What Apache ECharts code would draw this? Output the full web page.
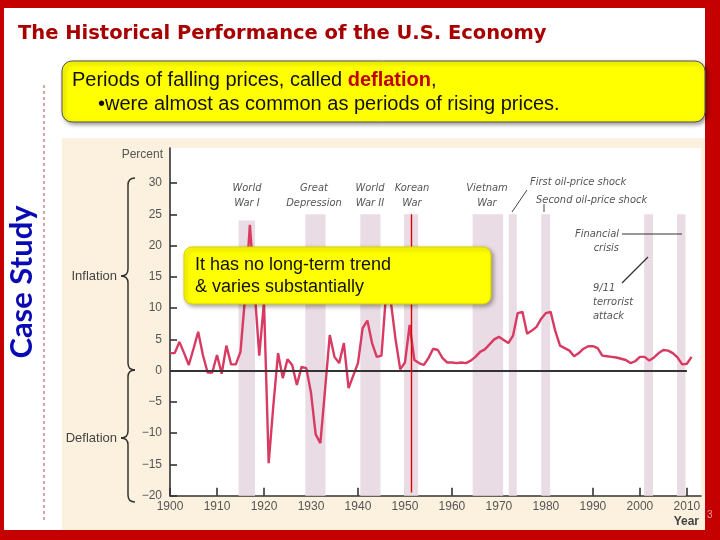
<!DOCTYPE html>
<html><head><meta charset="utf-8">
<script src="https://cdn.jsdelivr.net/npm/echarts@6.0.0/dist/echarts.min.js"></script>
<style>html,body{margin:0;padding:0;background:#fff}#c{width:720px;height:540px}</style>
</head><body><div id="c"></div>
<script>
// ---- data ----
const years = [1900,1901,1902,1903,1904,1905,1906,1907,1908,1909,
  1910,1911,1912,1913,1914,1915,1916,1917,1918,1919,
  1920,1921,1922,1923,1924,1925,1926,1927,1928,1929,
  1930,1931,1932,1933,1934,1935,1936,1937,1938,1939,
  1940,1941,1942,1943,1944,1945,1946,1947,1948,1949,
  1950,1951,1952,1953,1954,1955,1956,1957,1958,1959,
  1960,1961,1962,1963,1964,1965,1966,1967,1968,1969,
  1970,1971,1972,1973,1974,1975,1976,1977,1978,1979,
  1980,1981,1982,1983,1984,1985,1986,1987,1988,1989,
  1990,1991,1992,1993,1994,1995,1996,1997,1998,1999,
  2000,2001,2002,2003,2004,2005,2006,2007,2008,2009,
  2010,2011];
const inflation = [2.8,2.8,4.6,2.8,0.9,3.5,6.2,2.5,-0.3,-0.3,
  2.5,-0.5,4.0,1.0,1.0,3.0,12.0,23.3,13.0,2.4,
  11.0,-14.8,-5.5,2.8,-1.2,1.8,0.9,-2.3,0.6,0.4,
  -3.5,-10.2,-11.6,-3.0,5.7,2.2,1.2,4.4,-2.8,-0.8,
  1.2,6.8,8.0,4.4,2.2,2.4,12.5,11.0,5.0,0.2,
  1.3,7.3,1.7,1.2,0.9,2.0,3.5,3.3,2.0,1.3,
  1.3,1.2,1.3,1.2,1.6,2.2,3.0,3.4,4.2,5.0,
  5.4,4.9,4.4,5.6,9.2,9.4,5.9,6.4,7.0,8.3,
  9.2,9.4,6.3,4.0,3.6,3.2,2.3,2.8,3.5,3.9,
  3.9,3.6,2.4,2.3,2.2,2.1,1.9,1.7,1.2,1.5,
  2.2,2.2,1.6,2.1,2.8,3.3,3.2,2.8,2.1,1.0,
  1.1,2.2];
const xTicks = [1900,1910,1920,1930,1940,1950,1960,1970,1980,1990,2000,2010];
const yTicks = [-20,-15,-10,-5,0,5,10,15,20,25,30];
const bandStart = [1914.6,1928.8,1940.5,1949.8,1964.4,1972.1,1979.0,2000.9,2007.9];
const bandEnd   = [1918.1,1933.1,1944.8,1952.8,1970.9,1973.8,1980.9,2002.8,2009.7];
const bandTop   = [24,25,25,25,25,25,25,25,25];
const zeroLineYears = [1900,2010];
const markerYear = 1951.3;
const markerRange = [25,-19.5];

const titleText = 'The Historical Performance of the U.S. Economy';
const box1Line1 = 'Periods of falling prices, called {r|deflation},';
const box1Line2 = '\u2022were almost as common as periods of rising prices.';
const box2Text = 'It has no long-term trend\n& varies substantially';
const eventLabels = ['World\nWar I','Great\nDepression','World\nWar II','Korean\nWar','Vietnam\nWar'];

// ---- chart ----
const chart = echarts.init(document.getElementById('c'), null, {renderer:'canvas', width:720, height:540});
const annoFont = 'italic 11px "Liberation Sans Narrow", "DejaVu Sans Condensed", sans-serif';
const eventX = [247,314,370,412,487];
const graphic = [
  {type:'rect', z:-30, shape:{x:0,y:0,width:720,height:540}, style:{fill:'#c40000'}},
  {type:'rect', z:-29, shape:{x:4,y:8,width:701,height:522}, style:{fill:'#ffffff'}},
  {type:'rect', z:-28, shape:{x:62,y:138,width:643,height:392}, style:{fill:'#fbf1de'}},
  {type:'line', z:-27, shape:{x1:44,y1:85,x2:44,y2:522}, style:{stroke:'#b04848',lineWidth:1,lineDash:[3,3]}},
  {type:'text', z:10, x:18, y:34, style:{text:titleText, fill:'#a80000', font:'bold 19.5px "DejaVu Sans", "Liberation Sans", sans-serif', verticalAlign:'middle'}},
  {type:'text', z:10, x:22, y:282, rotation:Math.PI/2, style:{text:'Case Study', fill:'#0a0ab4', font:'bold 31px Lato, "Open Sans", sans-serif', align:'center', verticalAlign:'middle'}},
  // top yellow box
  {type:'rect', z:100, shape:{x:62,y:61,width:643,height:61,r:10}, style:{fill:'#ffff00', stroke:'#555', lineWidth:1, shadowBlur:4, shadowOffsetX:2, shadowOffsetY:2, shadowColor:'rgba(0,0,0,0.4)'}},
  {type:'text', z:101, x:72, y:80, style:{text:box1Line1, fill:'#111', font:'20px "Liberation Sans", Arial, sans-serif', verticalAlign:'middle', rich:{r:{fill:'#c00000', fontWeight:'bold', fontSize:20, fontFamily:'"Liberation Sans", Arial, sans-serif'}}}},
  {type:'text', z:101, x:98, y:104, style:{text:box1Line2, fill:'#111', font:'20px "Liberation Sans", Arial, sans-serif', verticalAlign:'middle'}},
  // side labels
  {type:'text', z:10, x:117, y:276, style:{text:'Inflation', fill:'#444', font:'13px "Liberation Sans Narrow", "Liberation Sans", sans-serif', align:'right', verticalAlign:'middle'}},
  {type:'text', z:10, x:117, y:438, style:{text:'Deflation', fill:'#444', font:'13px "Liberation Sans Narrow", "Liberation Sans", sans-serif', align:'right', verticalAlign:'middle'}},
  {type:'text', z:10, x:163, y:155, style:{text:'Percent', fill:'#555', font:'12px "Liberation Sans", sans-serif', align:'right', verticalAlign:'middle'}},
  {type:'text', z:10, x:699, y:522, style:{text:'Year', fill:'#444', font:'bold 12px "Liberation Sans", sans-serif', align:'right', verticalAlign:'middle'}},
  {type:'text', z:10, x:707, y:515, style:{text:'3', fill:'#d8a0a0', font:'10px "Liberation Sans", sans-serif', verticalAlign:'middle'}},
  // annotations
  {type:'text', z:10, x:530, y:182, style:{text:'First oil-price shock', fill:'#555', font:annoFont, verticalAlign:'middle'}},
  {type:'text', z:10, x:536, y:200, style:{text:'Second oil-price shock', fill:'#555', font:annoFont, verticalAlign:'middle'}},
  {type:'text', z:10, x:619, y:241, style:{text:'Financial\ncrisis', fill:'#555', font:annoFont, align:'right', verticalAlign:'middle', lineHeight:14}},
  {type:'text', z:10, x:593, y:302, style:{text:'9/11\nterrorist\nattack', fill:'#555', font:annoFont, align:'left', verticalAlign:'middle', lineHeight:14}},
  {type:'line', z:10, shape:{x1:512,y1:212,x2:527,y2:190}, style:{stroke:'#444',lineWidth:1}},
  {type:'line', z:10, shape:{x1:544,y1:204,x2:544,y2:212}, style:{stroke:'#444',lineWidth:1}},
  {type:'line', z:10, shape:{x1:622,y1:234,x2:682,y2:234}, style:{stroke:'#333',lineWidth:1.2}},
  {type:'line', z:10, shape:{x1:622,y1:283,x2:648,y2:257}, style:{stroke:'#333',lineWidth:1.2}},
  // second yellow box
  {type:'rect', z:100, shape:{x:184,y:247,width:307,height:57,r:8}, style:{fill:'#ffff00', stroke:'#e0d000', lineWidth:1, shadowBlur:4, shadowOffsetX:2, shadowOffsetY:2, shadowColor:'rgba(0,0,0,0.35)'}},
  {type:'text', z:101, x:195, y:276, style:{text:box2Text, fill:'#111', font:'18px "Liberation Sans", Arial, sans-serif', verticalAlign:'middle', lineHeight:22}}
];
eventLabels.forEach((t,i)=>{
  graphic.push({type:'text', z:10, x:eventX[i], y:196, style:{text:t, fill:'#555', font:annoFont, align:'center', verticalAlign:'middle', lineHeight:15}});
});
// curly braces built from curves and lines
function brace(x0, yTop, yMid, yBot){
  const st = {stroke:'#333', fill:null, lineWidth:1.5};
  const r = 7;
  graphic.push(
    {type:'bezierCurve', z:10, shape:{x1:x0+r, y1:yTop, cpx1:x0, cpy1:yTop, x2:x0, y2:yTop+r}, style:st},
    {type:'line', z:10, shape:{x1:x0, y1:yTop+r, x2:x0, y2:yMid-r}, style:st},
    {type:'bezierCurve', z:10, shape:{x1:x0, y1:yMid-r, cpx1:x0, cpy1:yMid, x2:x0-r, y2:yMid}, style:st},
    {type:'bezierCurve', z:10, shape:{x1:x0-r, y1:yMid, cpx1:x0, cpy1:yMid, x2:x0, y2:yMid+r}, style:st},
    {type:'line', z:10, shape:{x1:x0, y1:yMid+r, x2:x0, y2:yBot-r}, style:st},
    {type:'bezierCurve', z:10, shape:{x1:x0, y1:yBot-r, cpx1:x0, cpy1:yBot, x2:x0+r, y2:yBot}, style:st}
  );
}
brace(128, 178, 276, 370);
brace(128, 370, 438, 502);

const option = {
  backgroundColor:'transparent',
  animation:false,
  grid:{left:170, top:148, width:531, height:347.7, show:true, backgroundColor:'#ffffff', borderWidth:0},
  xAxis:{type:'value', min:1900, max:2013,
    axisLine:{onZero:false, lineStyle:{color:'#333', width:1.6}},
    axisTick:{customValues:xTicks, inside:true, length:8, lineStyle:{color:'#333', width:1.6}},
    axisLabel:{customValues:xTicks, color:'#555', fontSize:12, fontFamily:'"Liberation Sans", sans-serif', margin:5,
      formatter:v => String(v)},
    splitLine:{show:false}},
  yAxis:{type:'value', min:-20, max:35.6,
    axisLine:{show:true, onZero:false, lineStyle:{color:'#333', width:1.6}},
    axisTick:{show:true, customValues:yTicks, inside:true, length:7, lineStyle:{color:'#333', width:1.6}},
    axisLabel:{customValues:yTicks, color:'#555', fontSize:12, fontFamily:'"Liberation Sans", sans-serif', margin:8,
      formatter:v => v < 0 ? '\u2212' + (-v) : String(v)},
    splitLine:{show:false}},
  series:[{
    type:'line', data: years.map((y,i)=>[y, inflation[i]]), showSymbol:false, z:3,
    lineStyle:{color:'#d83a62', width:2.4},
    markArea:{silent:true, itemStyle:{color:'#eadce5'},
      data: bandStart.map((s,i)=>[{xAxis:s, yAxis:bandTop[i]},{xAxis:bandEnd[i], yAxis:-20}])},
    markLine:{silent:true, symbol:'none', label:{show:false},
      data:[
        [{coord:[zeroLineYears[0],0], lineStyle:{color:'#333', width:1.8, type:'solid'}},{coord:[zeroLineYears[1],0]}],
        [{coord:[markerYear,markerRange[0]], lineStyle:{color:'#e20000', width:1.4, type:'solid'}},{coord:[markerYear,markerRange[1]]}]
      ]}
  }],
  graphic: graphic
};
chart.setOption(option);
</script></body></html>
